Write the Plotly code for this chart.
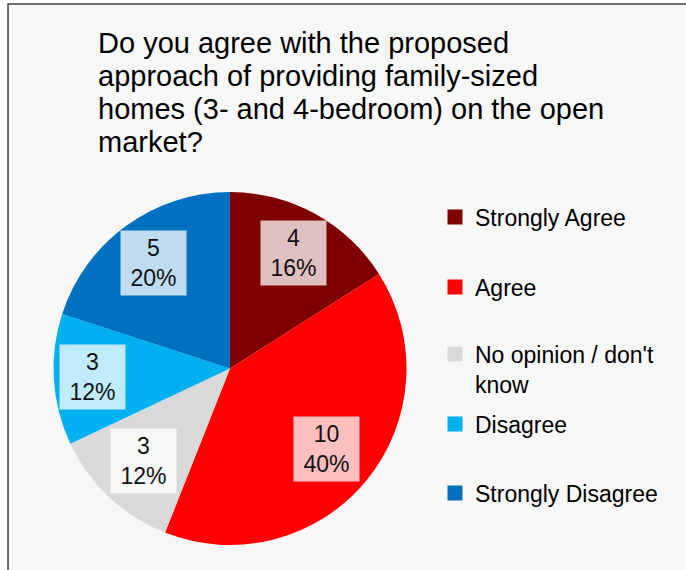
import math
import plotly.graph_objects as go

# Survey responses
categories = ["Strongly Agree", "Agree", "No opinion / don't know", "Disagree", "Strongly Disagree"]
legend_labels = ["Strongly Agree", "Agree", "No opinion / don't<br>know", "Disagree", "Strongly Disagree"]
counts = [4, 10, 3, 3, 5]
percent_labels = ["16%", "40%", "12%", "12%", "20%"]

title_lines = [
    "Do you agree with the proposed",
    "approach of providing family-sized",
    "homes (3- and 4-bedroom) on the open",
    "market?",
]

colors = ["#7F0000", "#FF0000", "#D9D9D9", "#00B0F0", "#0070C0"]
label_radius = [0.745, 0.712, 0.717, 0.78, 0.737]  # fraction of pie radius for value boxes

W, H = 686, 570
FONT = "Liberation Sans, Arial, sans-serif"

# pie placement in pixels
cx, cy, R = 230.0, 368.5, 176.5
dom_x = [(cx - R) / W, (cx + R) / W]
dom_y = [1 - (cy + R) / H, 1 - (cy - R) / H]

fig = go.Figure()
fig.add_trace(go.Pie(
    labels=categories,
    values=counts,
    sort=False,
    direction="clockwise",
    rotation=0,
    marker=dict(colors=colors, line=dict(width=0)),
    textinfo="none",
    hoverinfo="label+value+percent",
    showlegend=False,
    domain=dict(x=dom_x, y=dom_y),
))

# value / percentage boxes placed at each slice's mid-angle
total = sum(counts)
annotations = []
cum = 0
for n, pct, rf in zip(counts, percent_labels, label_radius):
    mid = (cum + n / 2) / total * 2 * math.pi
    cum += n
    px = cx + rf * R * math.sin(mid)
    py = cy - rf * R * math.cos(mid)
    annotations.append(dict(
        x=px / W, y=1 - py / H, xref="paper", yref="paper",
        xanchor="center", yanchor="middle",
        text=f"{n}<br>{pct}", showarrow=False,
        font=dict(family=FONT, size=23, color="#111111"),
        bgcolor="rgba(255,255,255,0.75)", borderpad=0,
        width=65, height=64, align="center", valign="middle",
    ))

# title, one annotation per line for tight line spacing
title_y = [43, 76, 109, 142]
for line, ty in zip(title_lines, title_y):
    annotations.append(dict(
        x=96 / W, y=1 - ty / H, xref="paper", yref="paper",
        xanchor="left", yanchor="middle", text=line, showarrow=False,
        font=dict(family=FONT, size=29, color="#000000"),
    ))

# legend entries, one legend box per category
legend_y = [217, 287, 369, 424, 493]
layout_legends = {}
for i, (lab, col, ly) in enumerate(zip(legend_labels, colors, legend_y)):
    key = "legend" if i == 0 else f"legend{i + 1}"
    fig.add_trace(go.Scatter(
        x=[None], y=[None], mode="markers", name=lab,
        marker=dict(symbol="square", size=15, color=col),
        legend=key, showlegend=True, hoverinfo="skip",
    ))
    layout_legends[key] = dict(
        x=435 / W, xanchor="left", y=1 - ly / H, yanchor="middle",
        font=dict(family=FONT, size=23, color="#000000"),
        bgcolor="rgba(0,0,0,0)", borderwidth=0,
        valign="top",
    )

fig.update_layout(
    width=W, height=H,
    margin=dict(l=0, r=0, t=0, b=0),
    paper_bgcolor="#FFFFFF",
    plot_bgcolor="rgba(0,0,0,0)",
    xaxis=dict(visible=False),
    yaxis=dict(visible=False),
    annotations=annotations,
    shapes=[dict(
        type="rect", xref="paper", yref="paper",
        x0=8 / W, x1=1.05, y0=-0.05, y1=1 - 4 / H,
        fillcolor="#F7F7F7", line=dict(color="#404040", width=1.5),
        layer="below",
    )],
    **layout_legends,
)

fig.write_html("out.html")
